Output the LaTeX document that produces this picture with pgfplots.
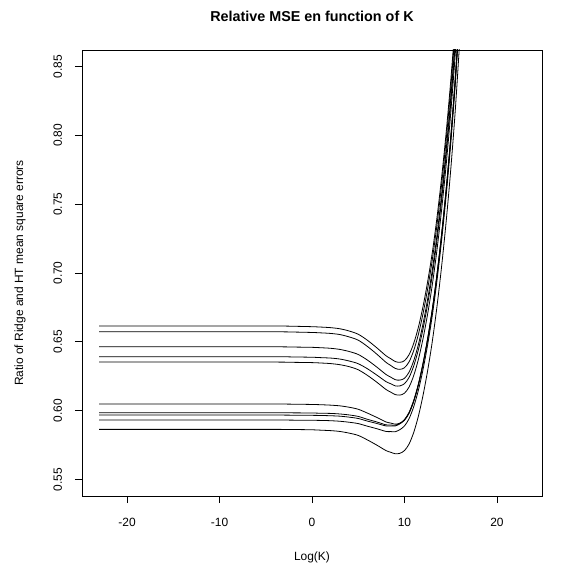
\documentclass[border=0pt]{standalone}
\usepackage{fontspec}
\setmainfont{Liberation Sans}
\usepackage{pgfplots}
\usepackage{pgfplotstable}
\pgfplotsset{compat=1.18}

% ratio of MSE curves
\pgfplotstableread{
x      c1     c2     c3     c4     c5     c6     c7     c8     c9     c10
-23.03 0.6615 0.6573 0.6464 0.6392 0.6353 0.6048 0.5985 0.5968 0.5932 0.5864
-5     0.6615 0.6573 0.6464 0.6392 0.6353 0.6048 0.5985 0.5968 0.5932 0.5864
-2     0.6613 0.6571 0.6462 0.6390 0.6351 0.6047 0.5984 0.5967 0.5931 0.5863
0      0.6610 0.6568 0.6460 0.6388 0.6349 0.6045 0.5983 0.5966 0.5930 0.5861
1      0.6607 0.6565 0.6457 0.6385 0.6346 0.6043 0.5981 0.5965 0.5929 0.5858
2      0.6603 0.6561 0.6453 0.6382 0.6342 0.6040 0.5980 0.5963 0.5927 0.5855
3      0.6595 0.6553 0.6445 0.6375 0.6334 0.6035 0.5976 0.5960 0.5923 0.5849
4      0.6579 0.6536 0.6430 0.6361 0.6320 0.6025 0.5969 0.5953 0.5916 0.5837
5      0.6555 0.6512 0.6408 0.6341 0.6297 0.6010 0.5958 0.5943 0.5906 0.5820
6      0.6511 0.6466 0.6367 0.6304 0.6256 0.5982 0.5937 0.5924 0.5887 0.5787
7      0.6457 0.6411 0.6317 0.6259 0.6207 0.5951 0.5918 0.5907 0.5869 0.5750
8      0.6399 0.6351 0.6263 0.6211 0.6154 0.5918 0.5897 0.5889 0.5849 0.5710
8.5    0.6378 0.6329 0.6244 0.6196 0.6135 0.5910 0.5896 0.5889 0.5848 0.5698
9      0.6357 0.6307 0.6225 0.6180 0.6117 0.5902 0.5894 0.5889 0.5847 0.5687
9.5    0.6351 0.6300 0.6222 0.6180 0.6113 0.5909 0.5908 0.5904 0.5862 0.5690
10     0.6363 0.6312 0.6235 0.6196 0.6127 0.5931 0.5935 0.5932 0.5889 0.5710
10.5   0.6407 0.6355 0.6280 0.6242 0.6172 0.5981 0.5988 0.5985 0.5942 0.5758
11     0.6489 0.6437 0.6363 0.6325 0.6255 0.6066 0.6074 0.6072 0.6029 0.5842
11.5   0.6605 0.6553 0.6479 0.6442 0.6371 0.6183 0.6192 0.6190 0.6147 0.5959
12     0.6755 0.6703 0.6629 0.6592 0.6521 0.6333 0.6342 0.6340 0.6297 0.6109
12.5   0.6935 0.6883 0.6809 0.6772 0.6701 0.6513 0.6522 0.6520 0.6477 0.6289
13     0.7145 0.7093 0.7019 0.6982 0.6911 0.6723 0.6732 0.6730 0.6687 0.6499
13.5   0.7395 0.7343 0.7269 0.7232 0.7161 0.6973 0.6982 0.6980 0.6937 0.6749
14     0.7685 0.7633 0.7559 0.7522 0.7451 0.7263 0.7272 0.7270 0.7227 0.7039
14.5   0.8015 0.7963 0.7889 0.7852 0.7781 0.7593 0.7602 0.7600 0.7557 0.7369
15     0.8395 0.8343 0.8269 0.8232 0.8161 0.7973 0.7982 0.7980 0.7937 0.7749
15.5   0.8835 0.8783 0.8709 0.8672 0.8601 0.8413 0.8422 0.8420 0.8377 0.8189
16     0.9365 0.9313 0.9239 0.9202 0.9131 0.8943 0.8952 0.8950 0.8907 0.8719
16.5   0.9965 0.9913 0.9839 0.9802 0.9731 0.9543 0.9552 0.9550 0.9507 0.9319
}\mse

\begin{document}
\begin{tikzpicture}
\begin{axis}[
    scale only axis,
    width=460bp, height=446bp,
    xmin=-24.87, xmax=24.87,
    ymin=0.538, ymax=0.862,
    xtick={-20,-10,0,10,20},
    ytick={0.55,0.60,0.65,0.70,0.75,0.80,0.85},
    tick pos=left,
    tick align=outside,
    major tick length=7bp,
    axis line style={line width=0.8bp},
    every tick/.style={black, line width=0.8bp},
    /pgf/number format/assume math mode=true,
    tick label style={font=\fontsize{12}{14}\selectfont},
    yticklabel style={rotate=90, anchor=south, inner ysep=12.7bp,
        /pgf/number format/fixed,
        /pgf/number format/fixed zerofill, /pgf/number format/precision=2},
    xticklabel style={yshift=-11.7bp},
    xlabel={Log(K)},
    ylabel={Ratio of Ridge and HT mean square errors},
    every axis x label/.style={at={(axis description cs:0.5,0)},
        yshift=-61bp, anchor=center, font=\fontsize{12}{14}\selectfont},
    every axis y label/.style={at={(axis description cs:0,0.5)},
        xshift=-62bp, rotate=90, anchor=center, font=\fontsize{12}{14}\selectfont},
    title={\textbf{Relative MSE en function of K}},
    every axis title/.style={at={(axis description cs:0.5,1)},
        yshift=34bp, anchor=center, font=\fontsize{14.4}{16}\selectfont},
]
\addplot[black, line width=0.8bp, smooth] table[x=x, y=c1] {\mse};
\addplot[black, line width=0.8bp, smooth] table[x=x, y=c2] {\mse};
\addplot[black, line width=0.8bp, smooth] table[x=x, y=c3] {\mse};
\addplot[black, line width=0.8bp, smooth] table[x=x, y=c4] {\mse};
\addplot[black, line width=0.8bp, smooth] table[x=x, y=c5] {\mse};
\addplot[black, line width=0.8bp, smooth] table[x=x, y=c6] {\mse};
\addplot[black, line width=0.8bp, smooth] table[x=x, y=c7] {\mse};
\addplot[black, line width=0.8bp, smooth] table[x=x, y=c8] {\mse};
\addplot[black, line width=0.8bp, smooth] table[x=x, y=c9] {\mse};
\addplot[black, line width=0.8bp, smooth] table[x=x, y=c10] {\mse};
\coordinate (sw) at (rel axis cs:0,0);
\end{axis}
\path[use as bounding box] ([xshift=-82bp, yshift=-73bp]sw)
    rectangle ++(571bp, 569bp);
\end{tikzpicture}
\end{document}
